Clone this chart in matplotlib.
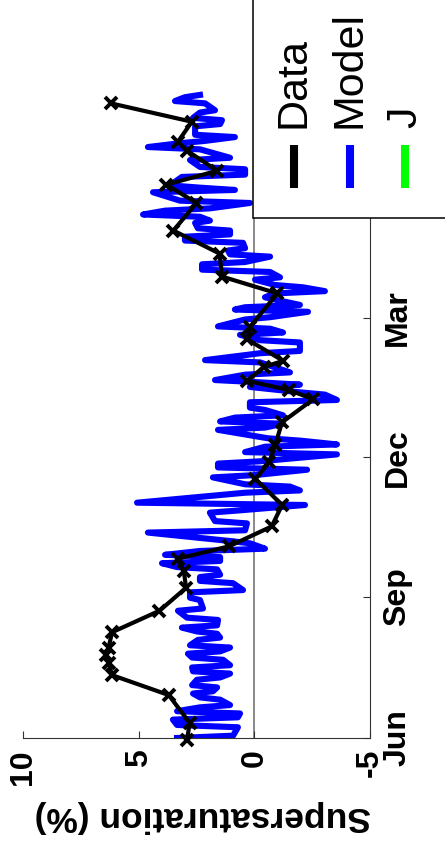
import numpy as np
import matplotlib.pyplot as plt
from matplotlib.lines import Line2D
from matplotlib.patches import Rectangle

# %% Data (days since 1 Jun, supersaturation in %)
data_day = [-1, 10, 28, 41, 49, 54, 59, 69, 83, 98, 109, 117, 125, 138, 152,
            169, 180, 191, 206, 221, 227, 233, 242, 246, 260, 268, 290, 301,
            316, 331, 349, 361, 370, 383, 389, 402, 414]
data_val = [2.9, 2.8, 3.7, 6.15, 6.3, 6.4, 6.3, 6.15, 4.1, 2.95, 3.05, 3.3,
            1.1, -0.75, -1.2, -0.05, -0.65, -0.9, -1.2, -2.55, -1.5, 0.3,
            -0.4, -1.25, 0.3, 0.2, -1.0, 1.4, 1.5, 3.5, 2.5, 3.8, 1.6, 2.9,
            3.3, 2.7, 6.2]

model_day = [0, 1.5, 7, 8.5, 12, 13.5, 16, 17.5, 20, 21.5, 25, 26.5,
             29, 30.5, 33, 34.5, 38, 39.5, 42, 43.5, 46, 47.5, 51, 52.5,
             55, 56.5, 59, 60.5, 64, 65.5, 68, 69.5, 72, 73.5, 77, 78.5,
             83, 84.5, 90, 91.5, 95, 96.5, 101, 102.5, 105, 106.5, 110, 111.5,
             114, 115.5, 118, 119.5, 122, 123.5, 127, 128.5, 134, 135.5,
             140, 141.5, 147, 148.5, 152, 153.5, 160, 161.5, 164, 165.5,
             170, 171.5, 175, 176.5, 179, 180.5, 185, 186.5, 190, 191.5,
             194, 195.5, 201, 202.5, 205, 206.5, 209, 210.5, 214, 215.5,
             219, 220.5, 224, 225.5, 229, 230.5, 232, 233.5, 237, 238.5,
             245, 246.5, 251, 252.5, 258, 259.5, 263, 264.5, 267, 268.5,
             273, 274.5, 278, 279.5, 281, 282.5, 286, 287.5, 290, 291.5,
             294, 295.5, 299, 300.5, 304, 305.5, 309, 310.5, 314, 315.5,
             318, 319.5, 323, 324.5, 327, 328.5, 331, 332.5, 336, 337.5,
             340, 341.5, 344, 345.5, 349, 350.5, 356, 357.5, 359, 360.5,
             366, 367.5, 371, 372.5, 377, 378.5, 384, 385.5, 388, 389.5,
             392, 393.5, 399, 400.5, 403, 404.5, 408, 409.5, 414, 415.5,
             418, 419.5]
model_val = [3.34, 0.92, 0.71, 3.34, 3.52, 0.71, 0.62, 3.34, 2.35, 1.05,
             1.48, 2.35, 2.65, 1.79, 1.61, 2.69, 2.48, 1.48, 1.05, 2.65,
             2.69, 1.05, 1.35, 2.69, 2.87, 1.48, 1.05, 2.78, 2.44, 1.48,
             1.61, 2.48, 3.13, 1.61, 1.57, 2.91, 3.30, 2.22, 2.35, 2.78,
             2.78, 0.49, 0.92, 2.35, 2.35, 1.48, 1.61, 3.34, 3.99, 1.48,
             1.48, 3.86, 2.35, -0.46, 0.19, 1.05, 4.60, 0.40, 0.32, 1.70,
             1.92, 0.62, -2.19, 5.07, 0.40, -1.97, -1.54, 0.40, 1.79, -0.03,
             -2.28, 1.57, 1.57, -0.25, -3.57, 0.40, -0.46, -3.57, -1.97, -0.59,
             1.57, -0.46, -1.24, 1.48, 0.84, -1.24, -0.46, 0.19, 0.19, -3.57,
             -3.05, -1.97, 0.19, -1.97, -0.25, 1.70, 0.40, -1.54, -0.25, 2.13,
             -0.25, -1.97, -1.97, -0.25, 0.62, -1.24, -0.68, 1.57, 0.40, -0.68,
             -2.32, 0.84, 0.40, -1.97, -0.89, -0.46, -0.89, -3.05, -2.10, -0.89,
             -0.03, -1.11, -0.68, 2.26, 2.26, 0.40, -0.68, 1.05, 1.14, 0.40,
             0.49, 3.00, 3.00, 1.05, 1.05, 2.44, 2.56, 1.92, 2.35, 4.81,
             3.86, 1.92, 0.19, 3.21, 4.38, 0.84, 2.35, 3.65, 3.13, 0.40,
             0.40, 2.35, 2.78, 1.05, 2.35, 4.60, 3.21, 2.13, 0.84, 2.56,
             2.56, 1.48, 1.40, 2.65, 2.35, 1.70, 2.13, 3.43, 3.00, 2.35]

month_ticks = [0, 92, 183, 274]
month_labels = ['Jun', 'Sep', 'Dec', 'Mar']
sat_ticks = [10, 5, 0, -5]
sat_labels = ['10', '5', '0', '-5']
legend_names = ['Data', 'Model', 'J']
legend_colors = ['black', '#0000ff', '#00ff00']

plt.rcParams['font.family'] = ['Liberation Sans', 'DejaVu Sans']

# %% Figure (drawn sideways: time runs up the page)
W, H = 445, 848
fig = plt.figure(figsize=(W / 100, H / 100), dpi=100)
ax = fig.add_axes([23 / W, 110 / H, 347 / W, 766.5 / H])

ax.axvline(0, color='0.5', lw=1.3, zorder=1)
ax.plot(model_val, model_day, '-', color='#0000ff', lw=4.4, zorder=2,
        solid_joinstyle='round')
ax.plot(data_val, data_day, '-x', color='black', lw=3, ms=9, mew=2.8,
        zorder=3, clip_on=False)

ax.set_xlim(10, -5)
ax.set_ylim(0, 500)
ax.set_xticks(sat_ticks)
ax.set_xticklabels(sat_labels, rotation=90, fontweight='bold', fontsize=23)
ax.yaxis.tick_right()
ax.set_yticks(month_ticks)
ax.set_yticklabels(month_labels, rotation=90, fontweight='bold',
                   fontsize=23, va='center')
ax.tick_params(axis='x', direction='in', length=5, width=0.8, pad=8,
               color='0.2')
ax.tick_params(axis='y', direction='in', length=5, width=0.8, pad=9,
               color='0.2')
for side in ['left', 'top']:
    ax.spines[side].set_visible(False)
for side in ['bottom', 'right']:
    ax.spines[side].set_color('0.2')
    ax.spines[side].set_linewidth(0.8)

fig.text(203 / W, 1 - 817 / H, 'Supersaturation (%)', rotation=180,
         ha='center', va='center', fontweight='bold', fontsize=25.5)

# %% Legend box
box = Rectangle((253 / W, 1 - 218 / H), 0.6, 0.4, transform=fig.transFigure,
                facecolor='white', edgecolor='black', lw=1.1, zorder=5,
                clip_on=False)
fig.add_artist(box)
for name, col, xp in zip(legend_names, legend_colors, [294, 350, 405]):
    fig.add_artist(Line2D([xp / W, xp / W], [1 - 145 / H, 1 - 188 / H],
                          transform=fig.transFigure, color=col, lw=5.8,
                          solid_capstyle='butt', zorder=6))
    fig.text(xp / W, 1 - 128 / H, name, rotation=90, ha='center',
             va='bottom', fontsize=31, zorder=6)

fig.savefig('out.png', dpi=100)
